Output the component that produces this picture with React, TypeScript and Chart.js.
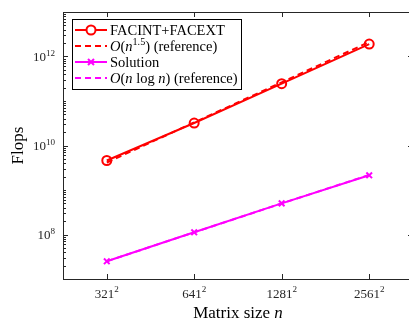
import { useEffect, useRef } from 'react';
import { Chart, registerables } from 'chart.js';

Chart.register(...registerables);

// ---- data ----
const matrixSides = [321, 641, 1281, 2561];
const matrixSizes = matrixSides.map((s) => s * s);
const facintFacext = [4.6e9, 3.2e10, 2.45e11, 1.9e12];
const refN15 = [4.15e9, 3.3e10, 2.63e11, 2.12e12];
const solution = [2.5e7, 1.12e8, 5.0e8, 2.14e9];
const refNlogN = [2.5e7, 1.12e8, 4.98e8, 2.18e9];
const yTickExponents = [8, 10, 12];
const yMin = 1e7;
const yMax = 1e13;

const FONT = '"Liberation Serif", "Times New Roman", serif';
const AXIS = '#262626';
const RED = '#ff0000';
const MAGENTA = '#ff00ff';

type Run = { t: string; it?: boolean; sup?: boolean };

function drawRuns(
  ctx: CanvasRenderingContext2D,
  runs: Run[],
  x: number,
  y: number,
  size: number,
  align: 'left' | 'center' | 'right'
) {
  const fontFor = (r: Run) =>
    `${r.it ? 'italic ' : ''}${r.sup ? size * 0.7 : size}px ${FONT}`;
  let total = 0;
  const widths: number[] = [];
  for (const r of runs) {
    ctx.font = fontFor(r);
    const w = ctx.measureText(r.t).width;
    widths.push(w);
    total += w;
  }
  let cx = align === 'center' ? x - total / 2 : align === 'right' ? x - total : x;
  ctx.textAlign = 'left';
  ctx.textBaseline = 'alphabetic';
  runs.forEach((r, i) => {
    ctx.font = fontFor(r);
    ctx.fillText(r.t, cx, r.sup ? y - size * 0.4 : y);
    cx += widths[i];
  });
}

const axesPlugin = {
  id: 'matlabAxes',
  afterDraw(chart: any) {
    const ctx: CanvasRenderingContext2D = chart.ctx;
    const { left, right, top, bottom } = chart.chartArea;
    const xs = chart.scales.x;
    const ys = chart.scales.y;
    ctx.save();
    ctx.strokeStyle = AXIS;
    ctx.lineWidth = 1;
    // box
    ctx.strokeRect(Math.round(left) + 0.5, Math.round(top) + 0.5, Math.round(right - left), Math.round(bottom - top));
    ctx.beginPath();
    // x ticks
    for (const v of matrixSizes) {
      const px = Math.round(xs.getPixelForValue(v)) + 0.5;
      ctx.moveTo(px, bottom);
      ctx.lineTo(px, bottom - 5);
      ctx.moveTo(px, top);
      ctx.lineTo(px, top + 5);
    }
    // y ticks
    for (let e = 7; e <= 12; e++) {
      for (let m = 1; m <= 9; m++) {
        const v = m * Math.pow(10, e);
        if (v <= yMin || v >= yMax) continue;
        const major = m === 1 && yTickExponents.includes(e);
        const len = major ? 5 : 3;
        const py = Math.round(ys.getPixelForValue(v)) + 0.5;
        ctx.moveTo(left, py);
        ctx.lineTo(left + len, py);
        ctx.moveTo(right, py);
        ctx.lineTo(right - len, py);
      }
    }
    ctx.stroke();

    // tick labels
    ctx.fillStyle = AXIS;
    for (let i = 0; i < matrixSizes.length; i++) {
      const px = xs.getPixelForValue(matrixSizes[i]);
      drawRuns(ctx, [{ t: String(matrixSides[i]) }, { t: '2', sup: true }], px, bottom + 18.5, 13, 'center');
    }
    for (const e of yTickExponents) {
      const py = ys.getPixelForValue(Math.pow(10, e));
      drawRuns(ctx, [{ t: '10' }, { t: String(e), sup: true }], left - 8, py + 4.5, 13, 'right');
    }

    // axis titles
    ctx.fillStyle = '#000';
    drawRuns(ctx, [{ t: 'Matrix size ' }, { t: 'n', it: true }], (left + right) / 2, 318, 17, 'center');
    ctx.save();
    ctx.translate(23, (top + bottom) / 2);
    ctx.rotate(-Math.PI / 2);
    drawRuns(ctx, [{ t: 'Flops' }], 0, 0, 17, 'center');
    ctx.restore();

    // legend
    const lx = 72.5, ly = 19.5, lw = 169, lh = 70;
    ctx.fillStyle = '#fff';
    ctx.fillRect(lx, ly, lw, lh);
    ctx.strokeStyle = '#000';
    ctx.lineWidth = 1;
    ctx.strokeRect(lx, ly, lw, lh);
    const items: { color: string; dash: boolean; marker: string | null; runs: Run[] }[] = [
      { color: RED, dash: false, marker: 'circle', runs: [{ t: 'FACINT+FACEXT' }] },
      {
        color: RED,
        dash: true,
        marker: null,
        runs: [{ t: 'O', it: true }, { t: '(' }, { t: 'n', it: true }, { t: '1.5', sup: true }, { t: ') (reference)' }],
      },
      { color: MAGENTA, dash: false, marker: 'x', runs: [{ t: 'Solution' }] },
      {
        color: MAGENTA,
        dash: true,
        marker: null,
        runs: [
          { t: 'O', it: true },
          { t: '(' },
          { t: 'n', it: true },
          { t: ' log ' },
          { t: 'n', it: true },
          { t: ') (reference)' },
        ],
      },
    ];
    const rowY = [30, 46, 62, 78];
    items.forEach((it, i) => {
      const y = rowY[i];
      ctx.strokeStyle = it.color;
      ctx.lineWidth = 2;
      ctx.setLineDash(it.dash ? [6, 4] : []);
      ctx.beginPath();
      ctx.moveTo(75, y);
      ctx.lineTo(107, y);
      ctx.stroke();
      ctx.setLineDash([]);
      if (it.marker === 'circle') {
        ctx.beginPath();
        ctx.arc(91, y, 4.5, 0, Math.PI * 2);
        ctx.fillStyle = '#fff';
        ctx.fill();
        ctx.stroke();
      } else if (it.marker === 'x') {
        ctx.beginPath();
        ctx.moveTo(88, y - 3);
        ctx.lineTo(94, y + 3);
        ctx.moveTo(94, y - 3);
        ctx.lineTo(88, y + 3);
        ctx.stroke();
      }
      ctx.fillStyle = '#000';
      drawRuns(ctx, it.runs, 110, y + 5, 14.5, 'left');
    });
    ctx.restore();
  },
};

export default function App() {
  const ref = useRef<HTMLCanvasElement | null>(null);
  useEffect(() => {
    if (!ref.current) return;
    const pts = (vals: number[]) => matrixSizes.map((x, i) => ({ x, y: vals[i] }));
    const chart = new Chart(ref.current, {
      type: 'line',
      data: {
        datasets: [
          {
            label: 'FACINT+FACEXT',
            data: pts(facintFacext),
            borderColor: RED,
            backgroundColor: 'transparent',
            borderWidth: 2,
            pointStyle: 'circle',
            pointRadius: 4.5,
            pointBorderWidth: 2,
            pointBackgroundColor: 'transparent',
            pointBorderColor: RED,
          },
          {
            label: 'O(n^1.5) (reference)',
            data: pts(refN15),
            borderColor: RED,
            borderWidth: 2,
            borderDash: [6, 4],
            pointRadius: 0,
          },
          {
            label: 'Solution',
            data: pts(solution),
            borderColor: MAGENTA,
            backgroundColor: 'transparent',
            borderWidth: 2,
            pointStyle: 'crossRot',
            pointRadius: 4,
            pointBorderWidth: 2,
            pointBorderColor: MAGENTA,
          },
          {
            label: 'O(n log n) (reference)',
            data: pts(refNlogN),
            borderColor: MAGENTA,
            borderWidth: 2,
            borderDash: [6, 4],
            pointRadius: 0,
          },
        ],
      },
      options: {
        animation: false,
        responsive: false,
        devicePixelRatio: 1,
        layout: { padding: { left: 63, right: 7, top: 12, bottom: 41 } },
        plugins: { legend: { display: false }, tooltip: { enabled: false } },
        scales: {
          x: {
            type: 'logarithmic',
            display: false,
            min: matrixSizes[0] / 2,
            max: matrixSizes[matrixSizes.length - 1] * 2,
          },
          y: { type: 'logarithmic', display: false, min: yMin, max: yMax },
        },
      },
      plugins: [axesPlugin],
    });
    return () => chart.destroy();
  }, []);
  return (
    <div
      style={{
        position: 'fixed',
        left: 0,
        top: 0,
        width: 409,
        height: 320,
        overflow: 'hidden',
        background: '#fff',
      }}
    >
      <canvas ref={ref} width={420} height={320} style={{ width: 420, height: 320, display: 'block' }} />
    </div>
  );
}
